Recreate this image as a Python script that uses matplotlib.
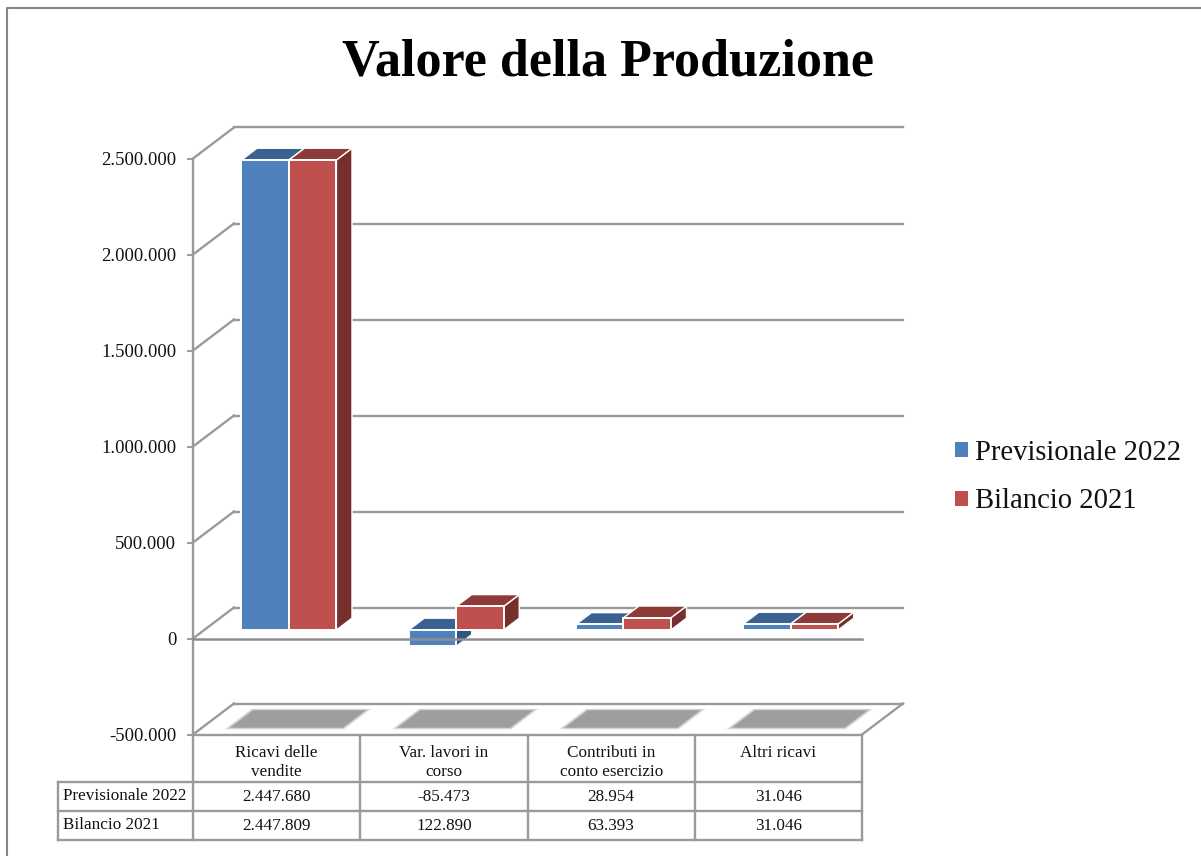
import matplotlib
matplotlib.use("Agg")
import matplotlib.pyplot as plt
from matplotlib.patches import Patch
from matplotlib.ticker import FuncFormatter
from matplotlib.transforms import Affine2D

plt.rcParams['font.family'] = ['Liberation Serif', 'DejaVu Serif']

title = "Valore della Produzione"
categories = ["Ricavi delle\nvendite", "Var. lavori in\ncorso", "Contributi in\nconto esercizio", "Altri ricavi"]
series_names = ["Previsionale 2022", "Bilancio 2021"]
previsionale = [2447680, -85473, 28954, 31046]
bilancio = [2447809, 122890, 63393, 31046]
y_ticks = [-500000, 0, 500000, 1000000, 1500000, 2000000, 2500000]

W, H = 1201, 856
DX, DY = 41, 31          # px depth of the 3D box
GRID = '#9A9A9A'
BLUE, BLUE_TOP, BLUE_SIDE = '#4F81BD', '#3A6291', '#2F5383'
RED, RED_TOP, RED_SIDE = '#C0504D', '#8E3A38', '#772F2D'
BAR_W = 0.284
D0, D1 = 0.275, 0.655    # bar front / back depth
BAR_C = 0.506            # bar pair centre within a category
TS = 12.3

def fmt(v):
    return f"{v:,.0f}".replace(",", ".")

fig = plt.figure(figsize=(W/100, H/100), dpi=100, facecolor='white')

# overlay in pixel space: outer frame and table grid
ov = fig.add_axes([0, 0, 1, 1], zorder=0)
ov.set_xlim(0, W); ov.set_ylim(H, 0); ov.axis('off')
ov.plot([7, 7, W], [H, 8, 8], color='#868686', lw=1.5, solid_capstyle='butt')
col_x = [193 + i*167.25 for i in range(5)]
rows_y = [735, 782, 811, 840]
for x in col_x:
    ov.plot([x, x], [735, 840], color=GRID, lw=1.7)
ov.plot([58, 58], [782, 840], color=GRID, lw=1.7)
for y in rows_y[1:]:
    ov.plot([58, col_x[-1]], [y, y], color=GRID, lw=1.7)

for i, c in enumerate(categories):
    cx = (col_x[i] + col_x[i+1]) / 2
    ov.text(cx, 745, c, ha='center', va='top', fontsize=TS, linespacing=1.27, color='#111111')
    ov.text(cx, 797, fmt(previsionale[i]), ha='center', va='center', fontsize=TS, color='#111111')
    ov.text(cx, 826, fmt(bilancio[i]), ha='center', va='center', fontsize=TS, color='#111111')
for name, y in zip(series_names, (796, 825)):
    ov.text(63, y, name, ha='left', va='center', fontsize=TS, color='#111111')

# main plot
ax = fig.add_axes([193/W, (H-734.5)/H, 669.0/W, 576.0/H], zorder=1)
ax.patch.set_alpha(0)
ax.set_xlim(0, len(categories))
ax.set_ylim(y_ticks[0], y_ticks[-1])
ax.set_xticks([])
ax.set_yticks(y_ticks)
ax.yaxis.set_major_formatter(FuncFormatter(lambda v, p: fmt(v)))
ax.tick_params(axis='y', length=4.5, width=1.4, color=GRID, labelsize=13.4, pad=7.5, labelcolor='#111111')
for s in ('top', 'right', 'bottom'):
    ax.spines[s].set_visible(False)
ax.spines['left'].set_color(GRID)
ax.spines['left'].set_linewidth(1.7)

def proj(x, v, d):
    """Data position of a point pushed back by depth d (0..1) in the 3D box."""
    px = ax.transData.transform((x, v)) + (DX*d, DY*d)
    return ax.transData.inverted().transform(px)

def poly(points, **kw):
    xy = [proj(*p) for p in points]
    ax.fill([q[0] for q in xy], [q[1] for q in xy], clip_on=False, **kw)

n = len(categories)
for v in y_ticks:
    a, b = proj(0, v, 0), proj(0, v, 1)
    ax.plot([a[0], b[0]], [a[1], b[1]], color=GRID, lw=1.7, clip_on=False, zorder=1)
    c = proj(n, v, 1)
    ax.plot([b[0], c[0]], [b[1], c[1]], color=GRID, lw=1.7, clip_on=False, zorder=1)
# floor outline
a, b = proj(n, y_ticks[0], 0), proj(n, y_ticks[0], 1)
ax.plot([0, n], [y_ticks[0], y_ticks[0]], color=GRID, lw=1.7, clip_on=False, zorder=1.5)
ax.plot([a[0], b[0]], [a[1], b[1]], color=GRID, lw=1.7, clip_on=False, zorder=1.5)

# soft floor shadows
for i in range(n):
    for grow, alpha in ((0.016, .12), (0.010, .18), (0.004, .25), (-0.002, .4), (-0.008, .6), (-0.014, 1)):
        g = grow*2.5
        poly([(i+0.16-grow, y_ticks[0], 0.2-g), (i+0.85+grow, y_ticks[0], 0.2-g),
              (i+0.85+grow, y_ticks[0], 0.8+g), (i+0.16-grow, y_ticks[0], 0.8+g)],
             color='#9E9E9E', alpha=alpha, lw=0, zorder=2)

# 3D bars, painted back to front
shift = Affine2D().translate(DX*D0, DY*D0)
for i in range(n):
    for j, (vals, front, top, side) in enumerate(((previsionale, BLUE, BLUE_TOP, BLUE_SIDE),
                                                 (bilancio, RED, RED_TOP, RED_SIDE))):
        v = vals[i]
        x0 = i + BAR_C - BAR_W + j*BAR_W
        x1 = x0 + BAR_W
        z = 3 + i + j*0.1
        hi = max(v, 0)
        lo = min(v, 0)
        poly([(x1, lo, D0), (x1, hi, D0), (x1, hi, D1), (x1, lo, D1)],
             facecolor=side, edgecolor='white', lw=1.0, zorder=z)
        poly([(x0, hi, D0), (x1, hi, D0), (x1, hi, D1), (x0, hi, D1)],
             facecolor=top, edgecolor='white', lw=1.0, zorder=z+0.01)
        ax.bar(x0 + BAR_W/2, v, BAR_W, color=front, edgecolor='white', linewidth=1.4,
               transform=ax.transData + shift, clip_on=False, zorder=z+0.02)

# zero line in front
ax.plot([0, n], [0, 0], color='#8E8E8E', lw=1.8, clip_on=False, zorder=20)

ax.set_xlim(0, n)
ax.set_ylim(y_ticks[0], y_ticks[-1])

fig.canvas.draw()
for lab in ax.get_yticklabels():
    lab.set_transform(lab.get_transform() + Affine2D().translate(0, 0))

fig.suptitle(title, x=608/W, y=(H-62)/H, ha='center', va='center',
             fontsize=37.5, fontweight='bold', color='black')

handles = [Patch(facecolor=BLUE, edgecolor='none'), Patch(facecolor=RED, edgecolor='none')]
fig.legend(handles, series_names, loc='center left', bbox_to_anchor=(955/W, (H-477)/H),
           frameon=False, fontsize=20.6, handlelength=0.45, handleheight=0.45,
           handletextpad=0.25, labelspacing=0.8, borderpad=0, borderaxespad=0, labelcolor='#111111')

fig.savefig("out.png", dpi=100, facecolor='white')
